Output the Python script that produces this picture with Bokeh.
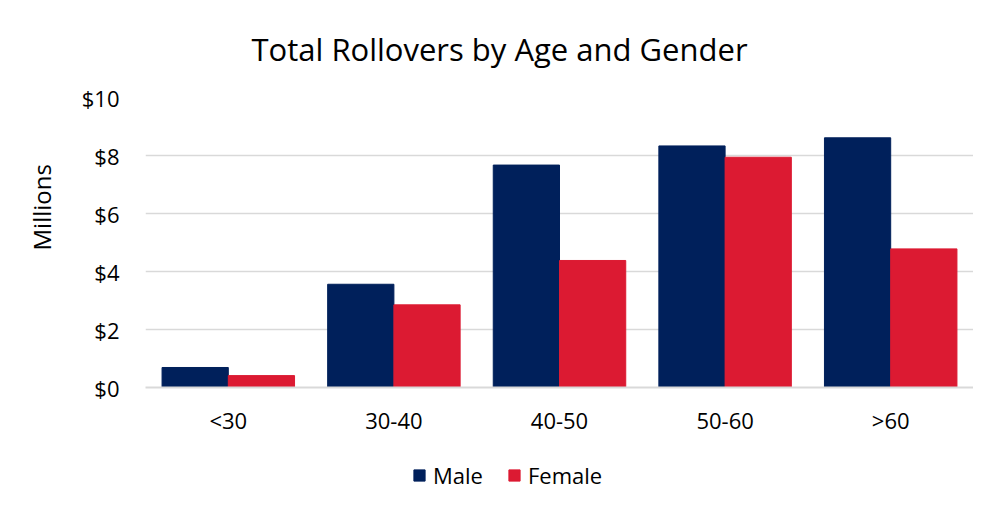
from bokeh.plotting import figure
from bokeh.layouts import column
from bokeh.models import (ColumnDataSource, Legend, LegendItem, Title, Range1d, FactorRange,
                          NumeralTickFormatter, FixedTicker)
from bokeh.transform import dodge
from bokeh.embed import file_html
from bokeh.resources import INLINE

categories = ["<30", "30-40", "40-50", "50-60", ">60"]
male = [0.69, 3.56, 7.67, 8.33, 8.61]
female = [0.41, 2.85, 4.38, 7.94, 4.78]
y_ticks = [0, 2, 4, 6, 8, 10]
title_text = "Total Rollovers by Age and Gender"
y_label = "Millions"

FONT = "Open Sans"
MALE_C = "#00205B"
FEMALE_C = "#DC1A32"

src = ColumnDataSource(dict(cat=categories, male=male, female=female))

p = figure(width=973, height=440, x_range=FactorRange(*categories), y_range=Range1d(0, 10),
           output_backend="svg", toolbar_location=None,
           min_border_left=145, min_border_right=0, min_border_top=97, min_border_bottom=53)
p.outline_line_color = None
p.background_fill_color = "white"
p.border_fill_color = "white"

r_m = p.vbar(x=dodge("cat", -0.2, range=p.x_range), top="male", width=0.4, source=src,
             fill_color=MALE_C, line_color=MALE_C)
r_f = p.vbar(x=dodge("cat", 0.2, range=p.x_range), top="female", width=0.4, source=src,
             fill_color=FEMALE_C, line_color=FEMALE_C)

# y axis
p.yaxis.ticker = FixedTicker(ticks=y_ticks)
p.yaxis.formatter = NumeralTickFormatter(format="$0")
p.yaxis.axis_line_color = None
p.yaxis.major_tick_line_color = None
p.yaxis.minor_tick_line_color = None
p.yaxis.major_label_standoff = 20
p.yaxis.major_label_text_font = FONT
p.yaxis.major_label_text_font_size = "22px"
p.yaxis.major_label_text_color = "#000000"
p.ygrid.grid_line_color = "#d9d9d9"
p.ygrid.grid_line_width = 1.5
p.xgrid.grid_line_color = None

# x axis
p.xaxis.axis_line_color = "#d9d9d9"
p.xaxis.axis_line_width = 2
p.xaxis.major_tick_line_color = None
p.xaxis.minor_tick_line_color = None
p.xaxis.major_label_standoff = 11
p.xaxis.major_label_text_font = FONT
p.xaxis.major_label_text_font_size = "22px"
p.xaxis.major_label_text_color = "#000000"

# title
p.add_layout(Title(text=title_text, align="left", offset=106, standoff=52, vertical_align="top",
                   text_font=FONT, text_font_size="31px", text_font_style="normal",
                   text_color="#000000"), "above")
# y label
p.add_layout(Title(text=y_label, align="left", offset=137, standoff=42,
                   text_font=FONT, text_font_size="24px", text_font_style="normal",
                   text_color="#000000"), "left")

# legend strip below the chart
lg = figure(width=973, height=53, x_range=Range1d(0, 1), y_range=Range1d(0, 1),
            output_backend="svg", toolbar_location=None,
            x_axis_location=None, y_axis_location=None,
            min_border_left=0, min_border_right=0, min_border_top=0, min_border_bottom=0)
lg.outline_line_color = None
lg.grid.grid_line_color = None
lg.border_fill_color = "white"
lm = lg.vbar(x=[0.5], top=[0.5], width=0.1, fill_color=MALE_C, line_color=MALE_C, visible=False)
lf = lg.vbar(x=[0.5], top=[0.5], width=0.1, fill_color=FEMALE_C, line_color=FEMALE_C, visible=False)

legend = Legend(items=[LegendItem(label="Male", renderers=[lm]),
                       LegendItem(label="Female", renderers=[lf])],
                orientation="horizontal", location=(267, 3),
                glyph_width=14, glyph_height=14, label_standoff=7, spacing=24,
                padding=0, margin=0, border_line_color=None, background_fill_alpha=0,
                label_text_font=FONT, label_text_font_size="22px", label_text_color="#000000")
lg.add_layout(legend, "center")

layout = column(p, lg, spacing=0)
open("out.html", "w").write(file_html(layout, INLINE))
